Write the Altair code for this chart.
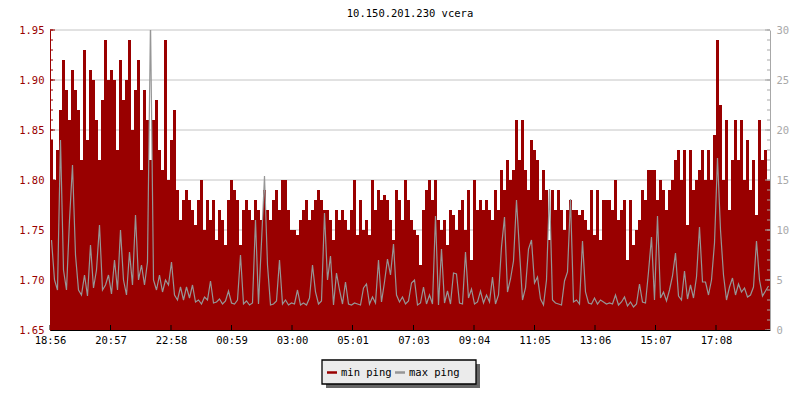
import json
import altair as alt
import pandas as pd

# ---------------- data ----------------
TITLE = "10.150.201.230 vcera"
SERIES = ["min ping", "max ping"]
STEP_MIN = 6                      # minutes per sample
START_LABEL = "18:56"
TIME_LABELS = ["18:56", "20:57", "22:58", "00:59", "03:00", "05:01",
               "07:03", "09:04", "11:05", "13:06", "15:07", "17:08"]
LEFT_TICKS = [1.65, 1.70, 1.75, 1.80, 1.85, 1.90, 1.95]
RIGHT_TICKS = [0, 5, 10, 15, 20, 25, 30]

MIN_PING = [
    1.84, 1.80, 1.83, 1.87, 1.92, 1.89, 1.86, 1.91, 1.89, 1.87,
    1.82, 1.93, 1.84, 1.91, 1.90, 1.86, 1.82, 1.88, 1.94, 1.90,
    1.91, 1.90, 1.83, 1.92, 1.88, 1.90, 1.94, 1.85, 1.89, 1.92,
    1.81, 1.89, 1.86, 1.82, 1.86, 1.88, 1.83, 1.81, 1.94, 1.80,
    1.84, 1.87, 1.79, 1.76, 1.78, 1.79, 1.78, 1.77, 1.755, 1.78,
    1.80, 1.75, 1.78, 1.76, 1.78, 1.74, 1.77, 1.76, 1.735, 1.78,
    1.80, 1.79, 1.78, 1.735, 1.77, 1.78, 1.77, 1.76, 1.78, 1.77,
    1.76, 1.79, 1.77, 1.76, 1.78, 1.79, 1.77, 1.80, 1.80, 1.77,
    1.75, 1.75, 1.745, 1.76, 1.77, 1.78, 1.76, 1.77, 1.78, 1.79,
    1.78, 1.77, 1.77, 1.76, 1.74, 1.77, 1.76, 1.77, 1.76, 1.75,
    1.77, 1.80, 1.745, 1.78, 1.75, 1.76, 1.745, 1.80, 1.77, 1.79,
    1.78, 1.785, 1.78, 1.76, 1.74, 1.79, 1.78, 1.76, 1.80, 1.78,
    1.76, 1.75, 1.745, 1.715, 1.77, 1.79, 1.80, 1.78, 1.80, 1.76,
    1.75, 1.76, 1.735, 1.77, 1.765, 1.75, 1.77, 1.78, 1.75, 1.79,
    1.72, 1.80, 1.77, 1.78, 1.77, 1.78, 1.77, 1.76, 1.79, 1.77,
    1.81, 1.79, 1.82, 1.80, 1.81, 1.86, 1.82, 1.86, 1.81, 1.79,
    1.84, 1.83, 1.82, 1.78, 1.81, 1.79, 1.74, 1.79, 1.77, 1.79,
    1.77, 1.75, 1.77, 1.78, 1.77, 1.77, 1.765, 1.77, 1.76, 1.75,
    1.79, 1.745, 1.79, 1.74, 1.78, 1.78, 1.78, 1.77, 1.80, 1.76,
    1.77, 1.78, 1.72, 1.78, 1.735, 1.75, 1.76, 1.79, 1.78, 1.81,
    1.81, 1.81, 1.78, 1.80, 1.79, 1.77, 1.79, 1.80, 1.82, 1.83,
    1.80, 1.83, 1.755, 1.83, 1.79, 1.80, 1.81, 1.83, 1.80, 1.83,
    1.80, 1.845, 1.94, 1.875, 1.80, 1.86, 1.77, 1.82, 1.86, 1.82,
    1.86, 1.80, 1.84, 1.79, 1.82, 1.765, 1.86, 1.82, 1.83, 1.80,
]

MAX_PING = [
    9.0, 5.0, 4.0, 19.0, 6.0, 4.0, 11.0, 16.5, 7.5, 4.0,
    3.5, 5.5, 3.4, 8.5, 4.2, 6.0, 10.5, 4.0, 4.5, 5.5,
    3.6, 7.0, 4.0, 10.0, 5.0, 3.5, 7.8, 4.5, 11.5, 5.0,
    6.5, 4.5, 6.8, 31.0, 5.0, 4.0, 5.5, 3.8, 5.0, 4.5,
    6.8, 3.5, 3.0, 4.3, 3.0, 4.3, 3.2, 4.5, 2.8, 3.0,
    2.6, 3.3, 3.0, 4.9, 2.7, 2.8, 3.1, 2.6, 2.9, 3.9,
    2.7, 2.6, 3.0, 7.5, 2.6, 2.9, 2.5, 2.7, 11.0, 2.6,
    8.8, 15.4, 6.5, 2.5, 2.6, 2.9, 7.0, 2.6, 3.0, 2.5,
    2.7, 2.6, 4.0, 2.5, 2.7, 2.5, 3.2, 6.5, 3.8, 2.6,
    2.9, 11.7, 5.0, 7.4, 2.5, 5.7, 4.0, 2.6, 4.8, 2.6,
    2.5, 2.7, 2.6, 2.5, 4.2, 4.6, 2.6, 3.3, 2.7, 7.0,
    2.8, 4.8, 7.1, 5.5, 8.6, 3.5, 2.8, 3.3, 2.6, 2.9,
    4.7, 5.0, 2.5, 2.7, 4.3, 2.6, 3.5, 2.6, 11.4, 2.5,
    8.1, 2.7, 3.9, 2.6, 5.7, 5.6, 2.7, 2.6, 7.8, 3.2,
    4.1, 2.6, 2.8, 3.9, 2.7, 3.5, 2.8, 5.3, 2.6, 3.5,
    8.3, 11.3, 3.8, 5.1, 6.9, 13.0, 7.9, 3.0, 4.2, 8.1,
    9.0, 4.7, 5.3, 3.1, 2.5, 5.0, 14.1, 3.0, 2.7, 2.6,
    2.5, 4.9, 5.8, 13.1, 2.8, 3.0, 2.6, 8.9, 3.8, 2.7,
    2.6, 3.2, 2.6, 3.0, 2.8, 2.6, 2.7, 2.6, 3.5, 2.5,
    2.8, 3.3, 2.4, 2.8, 2.3, 2.6, 4.6, 2.8, 2.7, 5.8,
    9.3, 3.0, 11.4, 3.2, 3.8, 2.9, 4.0, 5.4, 7.7, 3.4,
    3.0, 5.9, 3.1, 4.5, 3.2, 5.3, 10.3, 4.8, 4.8, 3.5,
    5.0, 8.7, 17.2, 10.0, 5.5, 3.0, 4.3, 5.2, 3.5, 4.6,
    3.8, 4.2, 3.3, 3.5, 4.3, 8.9, 5.0, 3.4, 3.9, 4.4,
]

# ---------------- styles ----------------
RED = "#990000"
GRAY = "#969696"
AXGRAY = "#a8a8a8"
GRIDC = "#c4c4c4"
FONT = "DejaVu Sans Mono"
FS = 10.5
W, H = 720, 300
DAY = 1440


def to_min(lbl):
    h, m = map(int, lbl.split(":"))
    h0, m0 = map(int, START_LABEL.split(":"))
    return (h * 60 + m - (h0 * 60 + m0)) % DAY


tick_minutes = [to_min(l) for l in TIME_LABELS]

n = len(MIN_PING)
df = pd.DataFrame({
    "t": [i * STEP_MIN for i in range(n)],
    "minp": MIN_PING,
    "maxp": MAX_PING,
})
df["t2"] = df["t"] + STEP_MIN
df["tc"] = df["t"] + STEP_MIN / 2

xs = alt.Scale(domain=[0, DAY], nice=False, zero=False)
yL = alt.Scale(domain=[LEFT_TICKS[0], LEFT_TICKS[-1]], nice=False, zero=False)
yR = alt.Scale(domain=[RIGHT_TICKS[0], RIGHT_TICKS[-1]], nice=False, zero=False)

label_expr = f"{json.dumps(TIME_LABELS)}[indexof({json.dumps(tick_minutes)}, datum.value)]"

x_axis = alt.Axis(values=tick_minutes, labelExpr=label_expr, ticks=False, tickSize=0,
                  grid=False, domainColor="black", labelColor="black", labelFont=FONT,
                  labelFontSize=FS, labelPadding=5, labelFlush=False, labelOverlap=False,
                  title=None, zindex=1)
left_axis = alt.Axis(values=LEFT_TICKS, format=".2f", ticks=False, tickSize=0, grid=False,
                     domainColor=RED, labelColor=RED, labelFont=FONT, labelFontSize=FS,
                     labelPadding=6, title=None, zindex=1)
right_axis = alt.Axis(orient="right", values=RIGHT_TICKS, ticks=False, tickSize=0, grid=False,
                      domainColor=AXGRAY, labelColor=AXGRAY, labelFont=FONT, labelFontSize=FS,
                      labelPadding=6, title=None, zindex=1)

# grid
grid_df = pd.DataFrame({"v": LEFT_TICKS})
grid = alt.Chart(grid_df).mark_rule(color=GRIDC, strokeWidth=1).encode(
    y=alt.Y("v:Q", scale=yL, axis=left_axis), x=alt.value(0), x2=alt.value(W))

bars = alt.Chart(df).mark_rect(color=RED).encode(
    x=alt.X("t:Q", scale=xs, axis=x_axis),
    x2="t2:Q",
    y=alt.Y("minp:Q", scale=yL, axis=left_axis),
    y2=alt.datum(LEFT_TICKS[0]),
)

lstep = 0.01
lminor = pd.DataFrame({"v": [round(LEFT_TICKS[0] + lstep * i, 2)
                              for i in range(int(round((LEFT_TICKS[-1] - LEFT_TICKS[0]) / lstep)) + 1)]})
ticksL_minor = alt.Chart(lminor).mark_rule(color=RED).encode(
    y=alt.Y("v:Q", scale=yL, axis=left_axis), x=alt.value(0), x2=alt.value(3))
ticksL_major = alt.Chart(grid_df).mark_rule(color=RED).encode(
    y=alt.Y("v:Q", scale=yL, axis=left_axis), x=alt.value(0), x2=alt.value(5))

bt_df = pd.DataFrame({"m": tick_minutes})
ticksB = alt.Chart(bt_df).mark_rule(color="black").encode(
    x=alt.X("m:Q", scale=xs, axis=x_axis), y=alt.value(H - 5), y2=alt.value(H))

line = alt.Chart(df).mark_line(color=GRAY, strokeWidth=1.2, clip=True).encode(
    x=alt.X("tc:Q", scale=xs, axis=x_axis),
    y=alt.Y("maxp:Q", scale=yR, axis=right_axis),
)

rminor = pd.DataFrame({"v": list(range(RIGHT_TICKS[0], RIGHT_TICKS[-1] + 1))})
rmajor = pd.DataFrame({"v": RIGHT_TICKS})
ticksR_minor = alt.Chart(rminor).mark_rule(color=AXGRAY).encode(
    y=alt.Y("v:Q", scale=yR, axis=right_axis), x=alt.value(W - 3), x2=alt.value(W))
ticksR_major = alt.Chart(rmajor).mark_rule(color=AXGRAY).encode(
    y=alt.Y("v:Q", scale=yR, axis=right_axis), x=alt.value(W - 5), x2=alt.value(W))

# title and legend box (drawn as text / shapes outside the plot area)
one = alt.Data(values=[{}])
title = alt.Chart(one).mark_text(text=TITLE, font=FONT, fontSize=FS, align="center",
                                 baseline="alphabetic", color="black").encode(
    x=alt.value(W / 2), y=alt.value(-13))

LX, LY, LW, LH = 272, 330, 154, 24
shadow = alt.Chart(one).mark_rect(color="#666666").encode(
    x=alt.value(LX + 4), x2=alt.value(LX + LW + 4), y=alt.value(LY + 4), y2=alt.value(LY + LH + 4))
box = alt.Chart(one).mark_rect(fill="#ebebeb", stroke="black", strokeWidth=1.3).encode(
    x=alt.value(LX), x2=alt.value(LX + LW), y=alt.value(LY), y2=alt.value(LY + LH))
sym1 = alt.Chart(one).mark_rule(color=RED, strokeWidth=2.5).encode(
    x=alt.value(LX + 5), x2=alt.value(LX + 15), y=alt.value(LY + 12.5))
txt1 = alt.Chart(one).mark_text(text=SERIES[0], font=FONT, fontSize=FS, align="left",
                                baseline="alphabetic", color="black").encode(
    x=alt.value(LX + 19), y=alt.value(LY + 16))
sym2 = alt.Chart(one).mark_rule(color=GRAY, strokeWidth=2.5).encode(
    x=alt.value(LX + 73), x2=alt.value(LX + 83), y=alt.value(LY + 12.5))
txt2 = alt.Chart(one).mark_text(text=SERIES[1], font=FONT, fontSize=FS, align="left",
                                baseline="alphabetic", color="black").encode(
    x=alt.value(LX + 87), y=alt.value(LY + 16))

left = alt.layer(grid, bars, ticksL_minor, ticksL_major, ticksB)
right = alt.layer(line, ticksR_minor, ticksR_major)
decor = alt.layer(title, shadow, box, sym1, txt1, sym2, txt2)

chart = alt.layer(left, right, decor).resolve_scale(y="independent").properties(
    width=W, height=H,
    padding={"left": 42, "top": 22, "right": 22, "bottom": 62},
    autosize="none",
).configure_view(strokeWidth=0)

chart.save("out.html", embed_options={"renderer": "svg", "actions": False})
